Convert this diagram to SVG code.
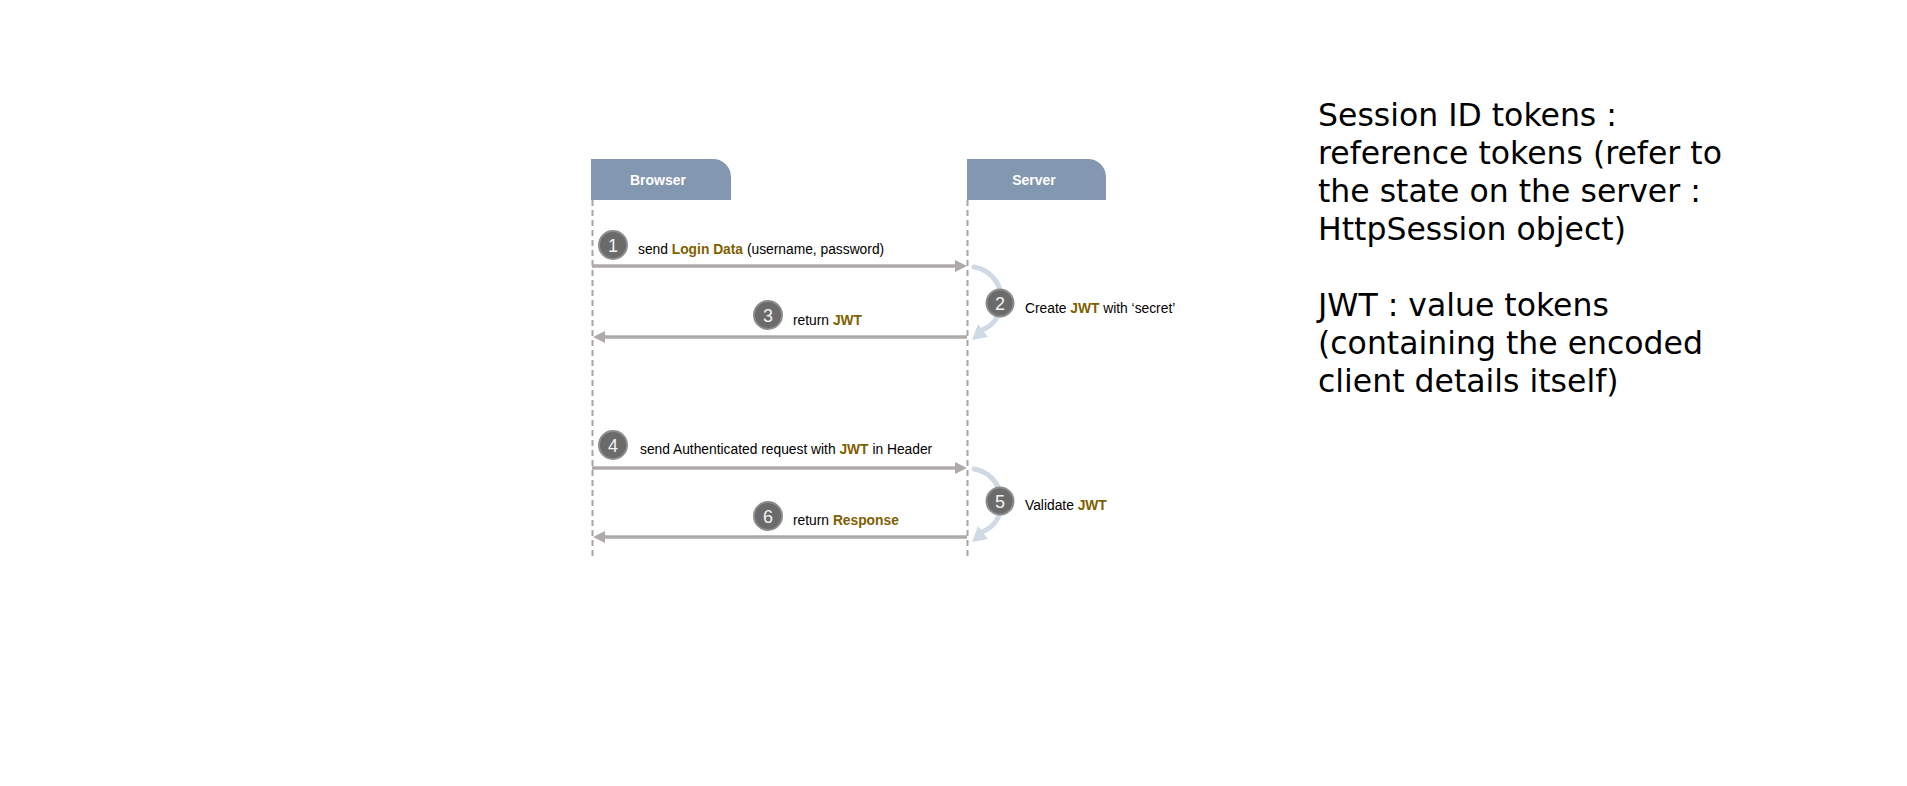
<svg xmlns="http://www.w3.org/2000/svg" width="1907" height="786" viewBox="0 0 1907 786">
<defs>
<style>
.hdr{fill:#8497b0}
.hdrt{font-family:"Liberation Sans",Arial,sans-serif;font-size:14px;font-weight:bold;fill:#ffffff;text-anchor:middle}
.life{stroke:#a6a6a6;stroke-width:2;stroke-dasharray:6 4;fill:none}
.msg{stroke:#aeaaaa;stroke-width:3.5;fill:none}
.head{fill:#aeaaaa}
.self{stroke:#cfdae5;stroke-width:5;fill:none;stroke-linecap:round}
.selfh{fill:#cfdae5}
.num{fill:#6b6b6b;stroke:#8c8c8c;stroke-width:2}
.numt{font-family:"Liberation Sans",Arial,sans-serif;font-size:18px;fill:#f2f2f2;text-anchor:middle}
.lbl{font-family:"Liberation Sans",Arial,sans-serif;font-size:13.8px;fill:#000000}
.hl{font-weight:bold;fill:#7f6000}
.note{font-family:"DejaVu Sans",Verdana,sans-serif;font-size:31.5px;fill:#000000}
</style>
</defs>
<rect width="1907" height="786" fill="#ffffff"/>

<g id="browser">
<path class="hdr" d="M591,200 V159 H713 A18,18 0 0 1 731,177 V200 Z"/>
<text class="hdrt" x="658" y="185">Browser</text>
<line class="life" x1="592.5" y1="200" x2="592.5" y2="560"/>
</g>

<g id="server">
<path class="hdr" d="M967,200 V159 H1088 A18,18 0 0 1 1106,177 V200 Z"/>
<text class="hdrt" x="1034" y="185">Server</text>
<line class="life" x1="967.5" y1="200" x2="967.5" y2="560"/>
</g>

<g id="connectors">
<line class="msg" x1="592" y1="266" x2="957" y2="266"/>
<polygon class="head" points="967,266 955,260 955,272"/>
<line class="msg" x1="967" y1="337" x2="603" y2="337"/>
<polygon class="head" points="593,337 605,331 605,343"/>
<line class="msg" x1="592" y1="468" x2="957" y2="468"/>
<polygon class="head" points="967,468 955,462 955,474"/>
<line class="msg" x1="967" y1="537" x2="603" y2="537"/>
<polygon class="head" points="593,537 605,531 605,543"/>
<path class="self" d="M974,267 C1006,272 1012,318 982,330"/>
<polygon class="selfh" points="972,340 988,337 978,324"/>
<path class="self" d="M974,469 C1006,474 1012,520 982,532"/>
<polygon class="selfh" points="972,542 988,539 978,526"/>
</g>

<g id="step1">
<circle class="num" cx="613" cy="245" r="14"/>
<text class="numt" x="613" y="251.5">1</text>
<text class="lbl" x="638" y="254">send <tspan class="hl">Login Data</tspan> (username, password)</text>
</g>
<g id="step2">
<circle class="num" cx="1000" cy="303" r="13.5"/>
<text class="numt" x="1000" y="309.5">2</text>
<text class="lbl" x="1025" y="313">Create <tspan class="hl">JWT</tspan> with ‘secret’</text>
</g>
<g id="step3">
<circle class="num" cx="768" cy="315" r="14"/>
<text class="numt" x="768" y="321.5">3</text>
<text class="lbl" x="793" y="325">return <tspan class="hl">JWT</tspan></text>
</g>
<g id="step4">
<circle class="num" cx="613" cy="445" r="14"/>
<text class="numt" x="613" y="451.5">4</text>
<text class="lbl" x="640" y="454">send Authenticated request with <tspan class="hl">JWT</tspan> in Header</text>
</g>
<g id="step5">
<circle class="num" cx="1000" cy="501" r="13.5"/>
<text class="numt" x="1000" y="507.5">5</text>
<text class="lbl" x="1025" y="510">Validate <tspan class="hl">JWT</tspan></text>
</g>
<g id="step6">
<circle class="num" cx="768" cy="516" r="14"/>
<text class="numt" x="768" y="522.5">6</text>
<text class="lbl" x="793" y="525">return <tspan class="hl">Response</tspan></text>
</g>

<g id="note">
<text class="note" x="1318" y="126">Session ID tokens :</text>
<text class="note" x="1318" y="164">reference tokens (refer to</text>
<text class="note" x="1318" y="202">the state on the server :</text>
<text class="note" x="1318" y="240">HttpSession object)</text>
<text class="note" x="1318" y="316">JWT : value tokens</text>
<text class="note" x="1318" y="354">(containing the encoded</text>
<text class="note" x="1318" y="392">client details itself)</text>
</g>
</svg>
